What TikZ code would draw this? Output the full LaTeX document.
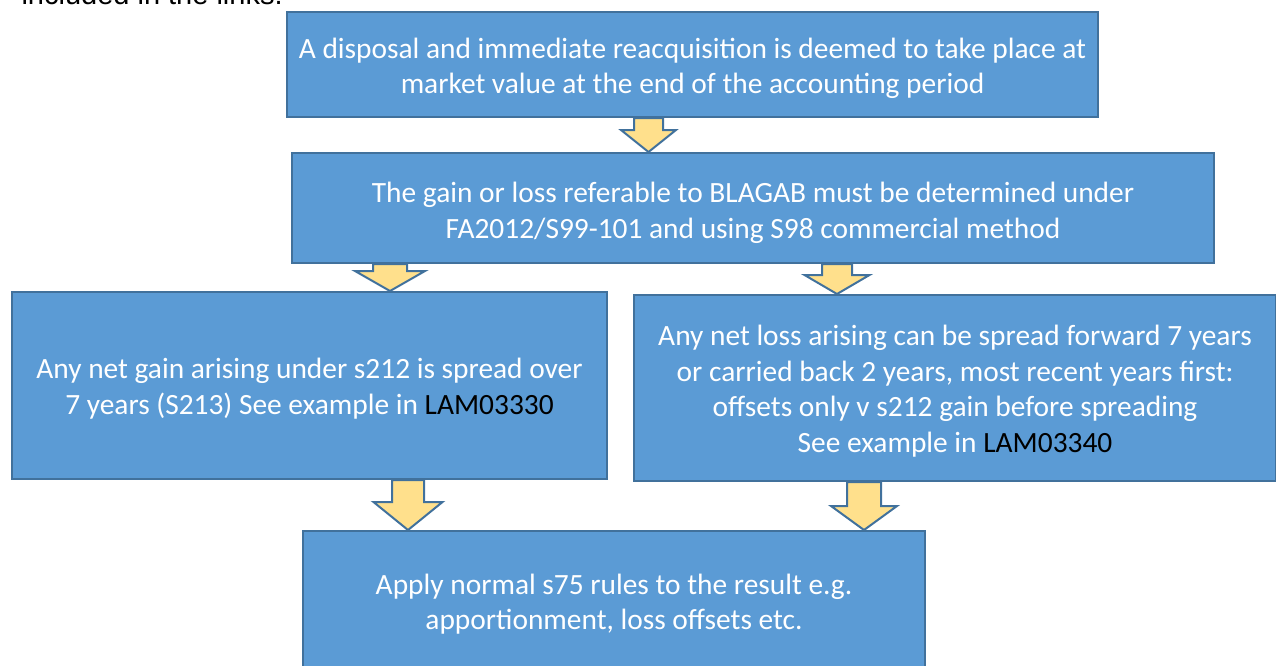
\documentclass[tikz,border=0pt]{standalone}
\usepackage{fontspec}
\setmainfont{Carlito}
\newfontfamily\arialfont{Liberation Sans}
\usetikzlibrary{calc}

\definecolor{boxblue}{HTML}{5B9BD5}
\definecolor{boxedge}{HTML}{41719C}
\definecolor{arrowyellow}{HTML}{FFE08C}

% down block arrow: from node, to node, x, shaft half width, head half width, head length
\newcommand{\blockarrow}[6]{%
  \draw[blockarrow] let \p1=(#3,0 |- #1.south), \p2=(#3,0 |- #2.north) in
    (\x1-#4pt,\y1) -- (\x1-#4pt,\y2+#6pt) -- (\x1-#5pt,\y2+#6pt) -- (\x2,\y2)
    -- (\x1+#5pt,\y2+#6pt) -- (\x1+#4pt,\y2+#6pt) -- (\x1+#4pt,\y1) -- cycle;}

\begin{document}
\begin{tikzpicture}[
    x=1pt, y=-1pt,
    flowbox/.style={rectangle, draw=boxedge, fill=boxblue, line width=2pt, inner sep=0pt},
    boxtext/.style={text=white, align=center, inner sep=0pt, yshift=-4pt,
      font=\fontsize{29.4}{35.6}\selectfont},
    blockarrow/.style={draw=boxedge, fill=arrowyellow, line width=2pt}
  ]
  \useasboundingbox (0,0) rectangle (1276,665);
  \clip (0,0) rectangle (1276,665);

  \node[anchor=base west, font=\arialfont\fontsize{29}{35}\selectfont] (intro) at (18,4) {included in the links.};

  \node[flowbox, minimum width=811pt, minimum height=105pt] (deemed) at (692.5,64.5) {};
  \node[flowbox, minimum width=922pt, minimum height=110pt] (gainloss) at (753,208) {};
  \node[flowbox, minimum width=595pt, minimum height=187pt] (netgain) at (309.5,385.5) {};
  \node[flowbox, minimum width=642pt, minimum height=186pt] (netloss) at (955,388) {};
  \node[flowbox, minimum width=622pt, minimum height=140pt] (normal) at (614,601) {};

  \node[boxtext] (deemed-text) at (deemed)
    {A disposal and immediate reacquisition is deemed to take place at\\market value at the end of the accounting period};
  \node[boxtext, yshift=-1pt] (gainloss-text) at (gainloss)
    {The gain or loss referable to BLAGAB must be determined under\\FA2012/S99-101 and using S98 commercial method};
  \node[boxtext, yshift=1pt] (netgain-text) at (netgain)
    {Any net gain arising under s212 is spread over\\7 years (S213) See example in {\color{black}LAM03330}};
  \node[boxtext, yshift=1pt] (netloss-text) at (netloss)
    {Any net loss arising can be spread forward 7 years\\or carried back 2 years, most recent years first:\\offsets only v s212 gain before spreading\\See example in {\color{black}LAM03340}};
  \node[boxtext, yshift=1pt] (normal-text) at (normal)
    {Apply normal s75 rules to the result e.g.\\apportionment, loss offsets etc.};

  \blockarrow{deemed}{gainloss}{648.5}{14.5}{27.5}{22}
  \blockarrow{gainloss}{netgain}{390}{17}{35}{20}
  \blockarrow{gainloss}{netloss}{837}{15}{32.5}{19}
  \blockarrow{netgain}{normal}{408}{16}{34.5}{28}
  \blockarrow{netloss}{normal}{864}{17}{33}{24}
\end{tikzpicture}
\end{document}
